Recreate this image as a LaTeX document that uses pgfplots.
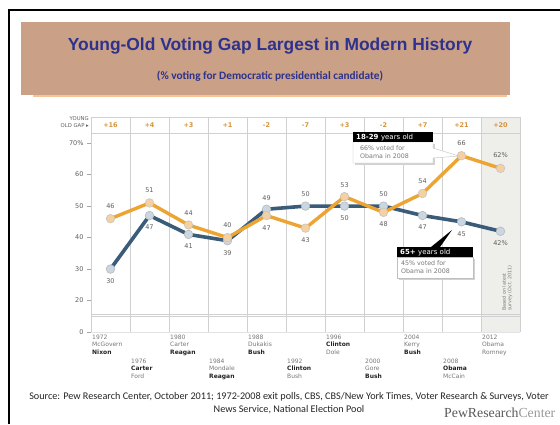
\documentclass[border=0pt]{standalone}
\usepackage{pgfplots}
\pgfplotsset{compat=1.18}
\usepackage{fontspec}
\setmainfont{DejaVu Sans}
\newfontfamily\arialf{Liberation Sans}
\newfontfamily\calibrif{Carlito}
\newfontfamily\seriff{Liberation Serif}

\definecolor{titlebg}{RGB}{202,160,134}
\definecolor{titleblue}{RGB}{46,50,140}
\definecolor{titleline}{RGB}{246,196,150}
\definecolor{oline}{RGB}{236,165,50}
\definecolor{ofill}{RGB}{246,208,158}
\definecolor{bline}{RGB}{58,92,120}
\definecolor{bfill}{RGB}{202,215,226}
\definecolor{gridc}{RGB}{208,208,208}
\definecolor{labgray}{RGB}{95,95,95}
\definecolor{gapc}{RGB}{214,148,58}
\definecolor{colshade}{RGB}{238,238,235}
\definecolor{candgray}{RGB}{120,120,120}
\definecolor{candbold}{RGB}{35,35,35}

\newcommand\lab[3]{\node[font=\fontsize{6.5}{7}\selectfont,text=labgray] at (axis cs:#1,#2) {#3};}
\newcommand\gap[2]{\node[font=\bfseries\fontsize{6.5}{7}\selectfont,text=gapc] at (axis cs:#1,75.75) {#2};}
\newcommand\cand[5]{\node[anchor=north west,align=left,inner sep=0pt,text=candgray,
  font=\fontsize{6}{7.2}\selectfont] at ({92+39*#1},#2) {#3\\#4\\#5};}
\newcommand\win[1]{\textcolor{candbold}{\bfseries #1}}

\begin{document}
\begin{tikzpicture}
\path[use as bounding box] (0,0) rectangle (560pt,424pt);
\fill[white] (0,0) rectangle (560pt,424pt);

\begin{axis}[at={(91pt,92pt)}, anchor=south west, scale only axis,
  width=429pt, height=215pt,
  xmin=-0.5, xmax=10.5, ymin=10, ymax=78.3,
  clip=false, axis line style={draw=none},
  xtick=\empty,
  ytick={10,20,30,40,50,60,70},
  yticklabels={0,20,30,40,50,60,70\%},
  ytick pos=left, tick align=outside, major tick length=4pt,
  ytick style={draw=gridc!80!black, line width=0.6pt},
  yticklabel style={font=\fontsize{6.5}{7}\selectfont, text=labgray}]

% 2012 column, based on survey
\fill[colshade] (axis cs:9.5,10) rectangle (axis cs:10.5,78.3);
\pgfplotsinvokeforeach{-0.5,0.5,...,10.5}{
  \draw[gridc, line width=0.8pt] (axis cs:#1,10) -- (axis cs:#1,78.3);}
\draw[gridc, line width=0.8pt] (axis cs:-0.5,78.3) -- (axis cs:10.5,78.3);
\draw[gridc, line width=0.8pt] (axis cs:-0.5,73.2) -- (axis cs:10.5,73.2);
\draw[gridc, line width=0.8pt] (axis cs:-0.5,15.75) -- (axis cs:10.5,15.75);
\draw[gridc, line width=0.8pt] (axis cs:-0.5,14.8) -- (axis cs:10.5,14.8);
\draw[gridc!60, line width=0.6pt] (axis cs:-0.5,10) -- (axis cs:10.5,10);

% 65+
\addplot[bline, line width=3.6pt, line join=round, mark=*, mark size=4.3pt,
  mark options={fill=bfill, draw=gray!55, line width=0.6pt}]
  coordinates {(0,30)(1,47)(2,41)(3,39)(4,49)(5,50)(6,50)(7,50)(8,47)(9,45)(10,42)};
% 18-29
\addplot[oline, line width=3.4pt, line join=round, mark=*, mark size=4.3pt,
  mark options={fill=ofill, draw=gray!45, line width=0.6pt}]
  coordinates {(0,46)(1,51)(2,44)(3,40)(4,47)(5,43)(6,53)(7,48)(8,54)(9,66)(10,62)};

% point labels
\lab{0}{49.9}{46}  \lab{0}{26.2}{30}
\lab{1}{54.9}{51}  \lab{1}{43.2}{47}
\lab{2}{47.9}{44}  \lab{2}{37.2}{41}
\lab{3}{43.9}{40}  \lab{3}{35.2}{39}
\lab{4}{52.6}{49}  \lab{4}{43.0}{47}
\lab{5}{53.7}{50}  \lab{5}{39.2}{43}
\lab{6}{56.7}{53}  \lab{6}{46.2}{50}
\lab{7}{53.7}{50}  \lab{7}{44.2}{48}
\lab{8}{57.9}{54}  \lab{8}{43.2}{47}
\lab{9}{69.9}{66}  \lab{9}{41.2}{45}
\lab{10}{66.1}{62\%} \lab{10}{38.2}{42\%}

% young-old gap row
\gap{0}{+16} \gap{1}{+4} \gap{2}{+3} \gap{3}{+1} \gap{4}{-2} \gap{5}{-7}
\gap{6}{+3} \gap{7}{-2} \gap{8}{+7} \gap{9}{+21} \gap{10}{+20}
\end{axis}

\begin{scope}[x=1pt, y=-1pt, yshift=424pt]
% slide frame
\draw[black, line width=2.6pt] (9,424) -- (9,10) -- (562,10);
% title band
\fill[titlebg] (21,22) rectangle (510,95);
\draw[titleline, line width=1.4pt] (33,96) -- (507,96);
\node[font=\arialf\bfseries\fontsize{17.4}{20}\selectfont, text=titleblue] at (270,46)
  {Young-Old Voting Gap Largest in Modern History};
\node[font=\calibrif\bfseries\fontsize{11.3}{13}\selectfont, text=titleblue] at (270,76)
  {(\% voting for Democratic presidential candidate)};

% gap header
\node[anchor=east, align=right, inner sep=0pt, text=labgray,
  font=\fontsize{5.3}{6.2}\selectfont] at (89,122) {YOUNG\\OLD GAP ▸};

% note in 2012 column
\node[rotate=90, anchor=north west, align=left, inner sep=0pt, text=candgray,
  font=\fontsize{4.8}{5.6}\selectfont] at (502,311) {Based on latest\\survey (Oct. 2011)};

% callout 18-29
\fill[gray!35] (355,144) rectangle (435,165);
\filldraw[fill=white, draw=gray!50, line width=0.4pt]
  (353,142) -- (433,142) -- (433,148) -- (459,156) -- (433,158) -- (433,163) -- (353,163) -- cycle;
\fill[black] (353,132) rectangle (433,142);
\node[anchor=west, text=white, inner sep=0pt, font=\fontsize{7}{8}\selectfont]
  at (356,137.2) {\bfseries 18-29 \mdseries years old};
\node[anchor=north west, align=left, inner sep=0pt, text=candgray,
  font=\fontsize{6.3}{7.8}\selectfont] at (360,145.5) {66\% voted for\\Obama in 2008};

% callout 65+
\fill[black] (431,247) -- (452,230) -- (440,247) -- cycle;
\fill[gray!35] (399,259) rectangle (475,280);
\filldraw[fill=white, draw=gray!50, line width=0.4pt] (397,257) rectangle (473,278);
\fill[black] (397,247) rectangle (473,257);
\node[anchor=west, text=white, inner sep=0pt, font=\fontsize{7}{8}\selectfont]
  at (400,252.2) {\bfseries 65+ \mdseries years old};
\node[anchor=north west, align=left, inner sep=0pt, text=candgray,
  font=\fontsize{6.3}{7.8}\selectfont] at (401,260.5) {45\% voted for\\Obama in 2008};

% elections below the axis
\cand{0}{335}{1972}{McGovern}{\win{Nixon}}
\cand{1}{359}{1976}{\win{Carter}}{Ford}
\cand{2}{335}{1980}{Carter}{\win{Reagan}}
\cand{3}{359}{1984}{Mondale}{\win{Reagan}}
\cand{4}{335}{1988}{Dukakis}{\win{Bush}}
\cand{5}{359}{1992}{\win{Clinton}}{Bush}
\cand{6}{335}{1996}{\win{Clinton}}{Dole}
\cand{7}{359}{2000}{Gore}{\win{Bush}}
\cand{8}{335}{2004}{Kerry}{\win{Bush}}
\cand{9}{359}{2008}{\win{Obama}}{McCain}
\cand{10}{335}{2012}{Obama}{Romney}

% source
\node[align=center, text=black!85, font=\calibrif\fontsize{10.2}{12.5}\selectfont] at (289,403)
  {Source: Pew Research Center, October 2011; 1972-2008 exit polls, CBS, CBS/New York Times, Voter Research \& Surveys, Voter\\News Service, National Election Pool};
\node[anchor=base west, inner sep=0pt, font=\seriff\fontsize{13.8}{15}\selectfont] at (444,417)
  {\textcolor{black!65}{PewResearch}\textcolor{black!40}{Center}};
\end{scope}
\end{tikzpicture}
\end{document}
